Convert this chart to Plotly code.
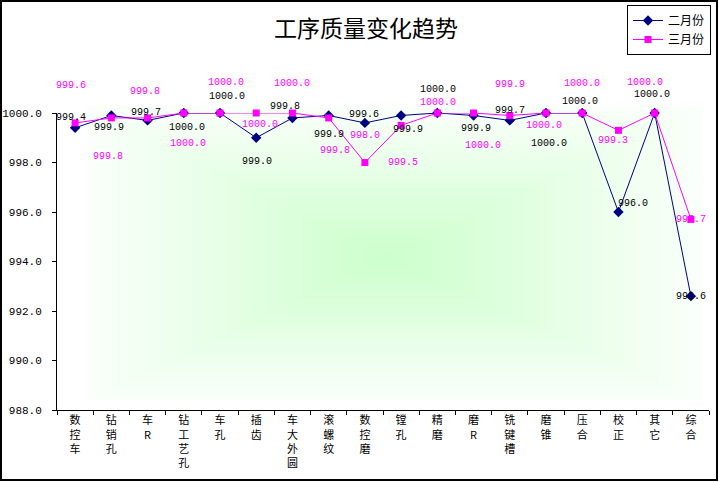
import plotly.graph_objects as go

categories = ["数控车", "钻销孔", "车R", "钻工艺孔", "车孔", "插齿", "车大外圆", "滚螺纹", "数控磨",
              "镗孔", "精磨", "磨R", "铣键槽", "磨锥", "压合", "校正", "其它", "综合"]
feb = [999.4, 999.9, 999.7, 1000.0, 1000.0, 999.0, 999.8, 999.9, 999.6,
       999.9, 1000.0, 999.9, 999.7, 1000.0, 1000.0, 996.0, 1000.0, 992.6]
mar = [999.6, 999.8, 999.8, 1000.0, 1000.0, 1000.0, 1000.0, 999.8, 998.0,
       999.5, 1000.0, 1000.0, 999.9, 1000.0, 1000.0, 999.3, 1000.0, 995.7]
y_ticks = [988, 990, 992, 994, 996, 998, 1000]

# label offsets in pixels (dx right, dy down) -- styling only
feb_dx = [-4, -2, -2, 3, 7, 1, -7, 0, -1, 7, 1, 2, 0, 3, -2, 15, -3, 0]
feb_dy = [-10, 12, -8, 14, -17, 24, -11, 19, -8, 14, -24, 13, -10, 30, -12, -9, -19, 0]
mar_dx = [-4, -3, -3, 4, 6, 4, 0, 6, 0, 2, 1, 9, 0, -2, 0, -5, -10, 0]
mar_dy = [-37, 39, -26, 30, -31, 11, -30, 33, -27, 37, -11, 32, -31, 12, -30, 10, -31, 0]

W, H = 719, 482
L, R, T, B = 57, 10, 113, 72
PW, PH = W - L - R, H - T - B


def px(x):
    return (x - L) / PW


def py(y):
    return (H - B - y) / PH


cat_labels = ["<br>".join(list(c)) for c in categories]

fig = go.Figure()
fig.add_trace(go.Scatter(
    x=categories, y=feb, name="二月份", mode="lines+markers",
    line=dict(color="#000080", width=1),
    marker=dict(symbol="diamond", size=8, color="#000080"),
    cliponaxis=False))
fig.add_trace(go.Scatter(
    x=categories, y=mar, name="三月份", mode="lines+markers",
    line=dict(color="#ff00ff", width=1),
    marker=dict(symbol="square", size=7, color="#ff00ff"),
    cliponaxis=False))

annotations = []
for i, c in enumerate(categories):
    annotations.append(dict(x=c, y=feb[i], xref="x", yref="y", text=f"{feb[i]:.1f}",
                            showarrow=False, xshift=feb_dx[i], yshift=-feb_dy[i],
                            font=dict(family="Liberation Mono", size=10, color="black")))
    annotations.append(dict(x=c, y=mar[i], xref="x", yref="y", text=f"{mar[i]:.1f}",
                            showarrow=False, xshift=mar_dx[i], yshift=-mar_dy[i],
                            font=dict(family="Liberation Mono", size=10, color="#ff00ff")))

annotations.append(dict(x=px(366), y=py(27), xref="paper", yref="paper", text="工序质量变化趋势",
                        showarrow=False, xanchor="center", yanchor="middle",
                        font=dict(family="Noto Sans CJK SC", size=23, color="black")))

# rectangular "from center" gradient background
shapes = []
gx0, gx1, gy0, gy1 = 88, 702, 105, 400
cx, cy = 385, 258
N = 45
e = (250, 255, 250)
cc = (204, 255, 204)
for k in range(N):
    f = k / N
    x0 = gx0 + (cx - gx0) * f
    x1 = gx1 - (gx1 - cx) * f
    y0 = gy0 + (cy - gy0) * f
    y1 = gy1 - (gy1 - cy) * f
    col = tuple(int(round(e[j] + (cc[j] - e[j]) * f)) for j in range(3))
    shapes.append(dict(type="rect", xref="paper", yref="paper", layer="below",
                       x0=px(x0), x1=px(x1), y0=py(y1), y1=py(y0),
                       line=dict(width=0), fillcolor=f"rgb{col}"))
# outer frame
shapes.append(dict(type="rect", xref="paper", yref="paper", layer="above",
                   x0=px(1), x1=px(717), y0=py(480), y1=py(1),
                   line=dict(color="black", width=2)))

fig.update_layout(
    width=W, height=H,
    margin=dict(l=L, r=R, t=T, b=B, pad=0, autoexpand=False),
    paper_bgcolor="white", plot_bgcolor="white",
    showlegend=True,
    legend=dict(x=px(627), y=py(5), xanchor="left", yanchor="top",
                bordercolor="black", borderwidth=1, bgcolor="white",
                font=dict(family="Noto Sans CJK SC", size=12, color="black"),
                itemwidth=30, tracegroupgap=0),
    annotations=annotations,
    shapes=shapes,
    xaxis=dict(type="category", range=[-0.5, len(categories) - 0.5], automargin=False,
               tickmode="array", tickvals=categories, ticktext=cat_labels,
               showline=True, linecolor="black", linewidth=1,
               ticks="outside", ticklen=4, tickcolor="black", tickson="boundaries",
               showgrid=False, zeroline=False,
               tickfont=dict(family="Noto Sans CJK SC", size=11, color="black")),
    yaxis=dict(range=[988, 1000], tickvals=y_ticks, tickformat=".1f", automargin=False,
               showline=True, linecolor="black", linewidth=1,
               ticks="outside", ticklen=4, tickcolor="black",
               showgrid=False, zeroline=False, ticklabelstandoff=8,
               tickfont=dict(family="Liberation Mono", size=11, color="black")),
)

fig.write_html(
    "out.html",
    config={"displayModeBar": False},
    post_script=("document.documentElement.style.margin='0';"
                 "document.documentElement.style.overflow='hidden';"
                 "document.body.style.margin='0';"
                 "document.body.style.overflow='hidden';"),
)
